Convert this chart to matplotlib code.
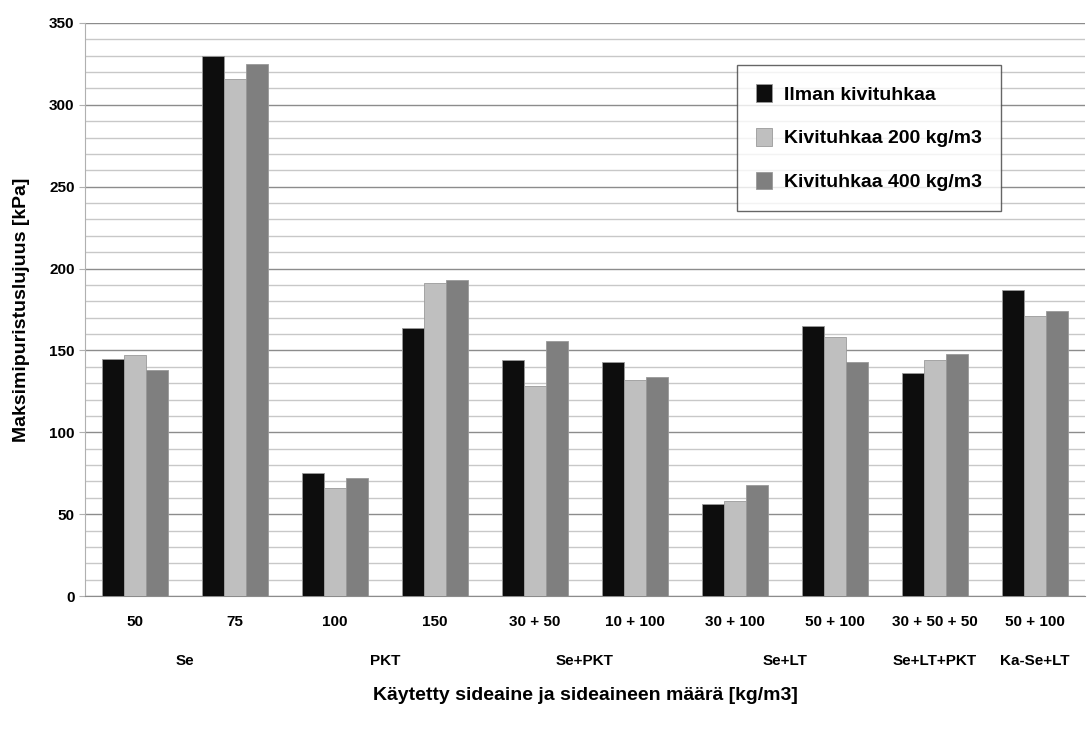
import numpy as np
import matplotlib.pyplot as plt

plt.rcParams['font.family'] = ['Liberation Sans', 'DejaVu Sans']
plt.rcParams['font.weight'] = 'bold'
plt.rcParams['axes.labelweight'] = 'bold'

# maarat ja sideaineryhmat
maarat = ['50', '75', '100', '150', '30 + 50', '10 + 100', '30 + 100', '50 + 100', '30 + 50 + 50', '50 + 100']
ryhmat = ['Se', 'PKT', 'Se+PKT', 'Se+LT', 'Se+LT+PKT', 'Ka-Se+LT']
ryhma_alku = [0, 2, 4, 6, 8, 9]
ryhma_loppu = [1, 3, 5, 7, 8, 9]

# maksimipuristuslujuus [kPa]
ilman = [145, 330, 75, 164, 144, 143, 56, 165, 136, 187]
kt200 = [147, 316, 66, 191, 128, 132, 58, 158, 144, 171]
kt400 = [138, 325, 72, 193, 156, 134, 68, 143, 148, 174]

sarjat = ['Ilman kivituhkaa', 'Kivituhkaa 200 kg/m3', 'Kivituhkaa 400 kg/m3']
varit = ['#0d0d0d', '#bfbfbf', '#7f7f7f']

fig = plt.figure(figsize=(10.89, 7.36), dpi=100)
ax = fig.add_axes([85/1089, 1-596/736, 1000/1089, 573/736])

x = np.arange(len(maarat))
w = 0.22
for i, (arvot, nimi, vari) in enumerate(zip([ilman, kt200, kt400], sarjat, varit)):
    ax.bar(x + (i-1)*w, arvot, w, color=vari, label=nimi, zorder=3,
           edgecolor='#9a9a9a', linewidth=0.6)

ax.set_xlim(-0.5, len(maarat)-0.5)
ax.set_ylim(0, 350)
ax.set_yticks(np.arange(0, 351, 50))
ax.set_yticks(np.arange(0, 351, 10), minor=True)
ax.grid(axis='y', which='major', color='#8c8c8c', linewidth=1.0, zorder=0)
ax.grid(axis='y', which='minor', color='#c8c8c8', linewidth=1.0, zorder=0)
ax.tick_params(axis='y', which='minor', length=0)
ax.tick_params(axis='y', which='major', length=4, color='#b0b0b0', labelsize=11)

ax.set_xticks(x)
ax.set_xticklabels(maarat, fontsize=11)
ax.tick_params(axis='x', length=0, pad=14)

for s in ['top', 'right']:
    ax.spines[s].set_visible(False)
ax.spines['left'].set_color('#b0b0b0')
ax.spines['bottom'].set_color('#8c8c8c')

# ryhmien nimet toiselle riville
for nimi, a, b in zip(ryhmat, ryhma_alku, ryhma_loppu):
    ax.text((a+b)/2, -40, nimi, ha='center', va='center', fontsize=11)

ax.set_ylabel('Maksimipuristuslujuus [kPa]', fontsize=14, labelpad=14)
fig.text(585/1089, 1-695/736, 'Käytetty sideaine ja sideaineen määrä [kg/m3]',
         ha='center', va='center', fontsize=14)

leg = ax.legend(loc='upper left', bbox_to_anchor=(652/1000, 1-42/573),
                borderaxespad=0, fontsize=14, frameon=True, fancybox=False,
                edgecolor='#404040', handlelength=0.8, handleheight=1.0,
                labelspacing=1.25, borderpad=1.0, handletextpad=0.6)
leg.get_frame().set_linewidth(1.0)

fig.savefig('out.png', dpi=100)
